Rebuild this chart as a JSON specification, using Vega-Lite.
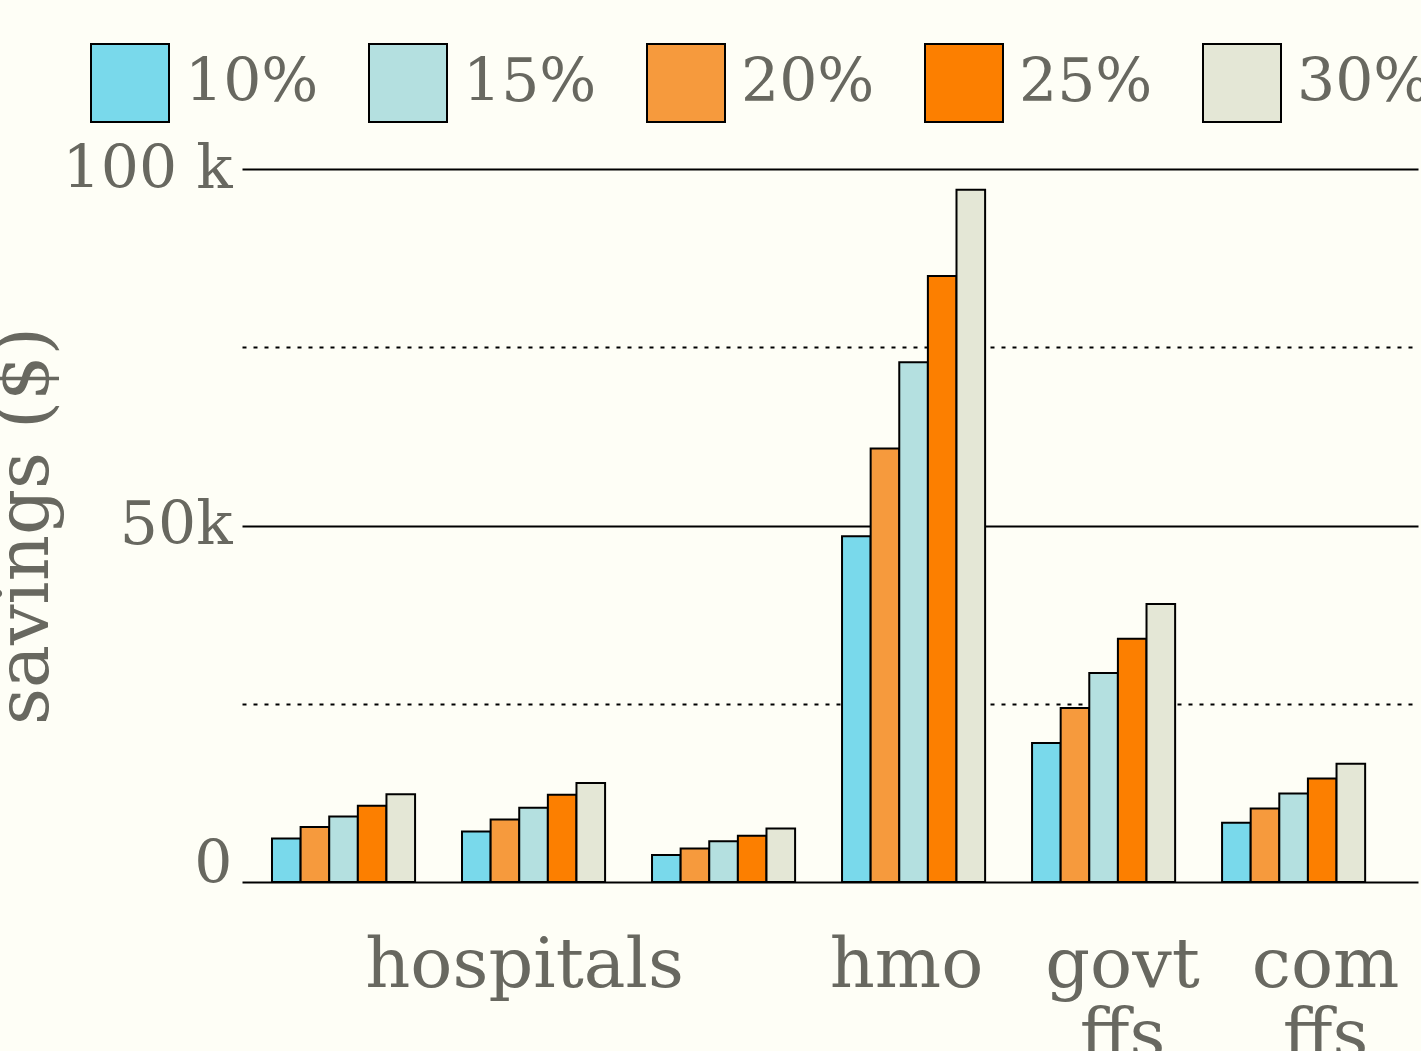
{
  "$schema": "https://vega.github.io/schema/vega-lite/v6.json",
  "width": 1176,
  "height": 713,
  "autosize": "none",
  "padding": {"left": 242, "top": 169, "right": 3, "bottom": 169},
  "background": "#FEFEF6",
  "config": {
    "font": "DejaVu Serif",
    "view": {"stroke": null},
    "axis": {"labelColor": "#686860", "titleColor": "#686860", "titleFontWeight": "normal"},
    "legend": {"labelColor": "#686860"}
  },
  "data": {
    "values": [
      {"group": "h1", "rate": "10%", "savings": 6100},
      {"group": "h1", "rate": "20%", "savings": 7700},
      {"group": "h1", "rate": "15%", "savings": 9200},
      {"group": "h1", "rate": "25%", "savings": 10700},
      {"group": "h1", "rate": "30%", "savings": 12300},
      {"group": "h2", "rate": "10%", "savings": 7100},
      {"group": "h2", "rate": "20%", "savings": 8750},
      {"group": "h2", "rate": "15%", "savings": 10400},
      {"group": "h2", "rate": "25%", "savings": 12250},
      {"group": "h2", "rate": "30%", "savings": 13900},
      {"group": "h3", "rate": "10%", "savings": 3800},
      {"group": "h3", "rate": "20%", "savings": 4700},
      {"group": "h3", "rate": "15%", "savings": 5700},
      {"group": "h3", "rate": "25%", "savings": 6500},
      {"group": "h3", "rate": "30%", "savings": 7500},
      {"group": "hmo", "rate": "10%", "savings": 48500},
      {"group": "hmo", "rate": "20%", "savings": 60800},
      {"group": "hmo", "rate": "15%", "savings": 72900},
      {"group": "hmo", "rate": "25%", "savings": 85000},
      {"group": "hmo", "rate": "30%", "savings": 97100},
      {"group": "govt ffs", "rate": "10%", "savings": 19500},
      {"group": "govt ffs", "rate": "20%", "savings": 24400},
      {"group": "govt ffs", "rate": "15%", "savings": 29300},
      {"group": "govt ffs", "rate": "25%", "savings": 34100},
      {"group": "govt ffs", "rate": "30%", "savings": 39000},
      {"group": "com ffs", "rate": "10%", "savings": 8300},
      {"group": "com ffs", "rate": "20%", "savings": 10300},
      {"group": "com ffs", "rate": "15%", "savings": 12400},
      {"group": "com ffs", "rate": "25%", "savings": 14500},
      {"group": "com ffs", "rate": "30%", "savings": 16600}
    ]
  },
  "mark": {"type": "bar", "stroke": "black", "strokeWidth": 2, "opacity": 1},
  "encoding": {
    "x": {
      "field": "group",
      "type": "nominal",
      "sort": ["h1", "h2", "h3", "hmo", "govt ffs", "com ffs"],
      "scale": {"paddingInner": 0.247, "paddingOuter": 0.218, "align": 0.362},
      "axis": {
        "title": null,
        "domain": false,
        "ticks": false,
        "labelAngle": 0,
        "labelFontSize": 70,
        "labelLineHeight": 71,
        "labelPadding": 49,
        "labelOverlap": false,
        "labelFlush": false,
        "labelLimit": 0,
        "labelExpr": "datum.value === 'h2' ? 'hospitals' : ((datum.value === 'h1' || datum.value === 'h3') ? '' : split(datum.value, ' '))",
        "labelOffset": {
          "condition": [
            {"test": "datum.value === 'h2'", "value": -9},
            {"test": "datum.value === 'hmo'", "value": -7},
            {"test": "datum.value === 'govt ffs'", "value": 19},
            {"test": "datum.value === 'com ffs'", "value": 32}
          ],
          "value": 0
        }
      }
    },
    "xOffset": {
      "field": "rate",
      "type": "nominal",
      "sort": ["10%", "20%", "15%", "25%", "30%"],
      "scale": {"paddingInner": 0, "paddingOuter": 0}
    },
    "y": {
      "field": "savings",
      "type": "quantitative",
      "scale": {"domain": [0, 100000], "nice": false},
      "axis": {
        "title": "savings ($)",
        "titleFontSize": 72,
        "titlePadding": 0,
        "values": [0, 25000, 50000, 75000, 100000],
        "domain": false,
        "ticks": false,
        "labelFontSize": 60,
        "labelPadding": 10,
        "labelExpr": "datum.value == 100000 ? '100 k' : (datum.value == 50000 ? '50k' : (datum.value == 0 ? '0' : ''))",
        "labelBaseline": {"condition": {"test": "datum.value == 0", "value": "alphabetic"}, "value": "middle"},
        "grid": true,
        "gridColor": "black",
        "gridOpacity": 1,
        "gridWidth": 2,
        "gridDash": {"condition": {"test": "datum.value % 50000 != 0", "value": [4, 7]}, "value": []}
      }
    },
    "color": {
      "field": "rate",
      "type": "nominal",
      "scale": {
        "domain": ["10%", "15%", "20%", "25%", "30%"],
        "range": ["#79D9EB", "#B4E0E0", "#F69A3D", "#FC7F00", "#E4E7D6"]
      },
      "legend": {
        "title": null,
        "orient": "none",
        "legendX": -152,
        "legendY": -126,
        "direction": "horizontal",
        "columns": 5,
        "symbolType": "square",
        "symbolSize": 6084,
        "symbolStrokeColor": "black",
        "symbolStrokeWidth": 2,
        "symbolOpacity": 1,
        "labelFontSize": 60,
        "labelOffset": 15,
        "columnPadding": 46,
        "labelLimit": 0
      }
    }
  }
}
